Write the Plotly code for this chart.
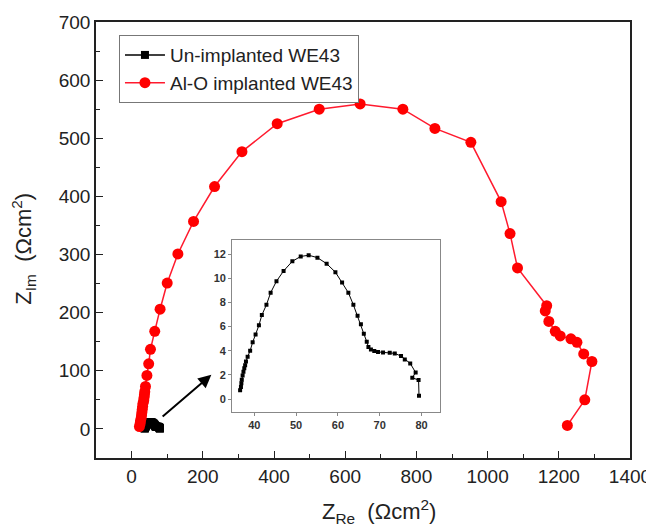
import plotly.graph_objects as go

# Un-implanted WE43 (also shown in inset)
un_x = [36.6, 36.8, 36.9, 37.0, 37.2, 37.4, 37.6, 37.8, 38.0, 38.4, 39.0, 39.6, 40.3, 41.1, 41.8,
        42.9, 43.9, 45.3, 47.0, 49.1, 51.1, 53.0, 55.1, 57.3, 59.4, 61.0, 62.5, 63.7, 64.7, 65.5,
        66.2, 66.9, 67.3, 67.9, 68.7, 69.6, 70.8, 72.4, 73.6, 75.1, 76.0, 77.3, 78.6, 77.8, 79.3, 79.4]
un_y = [0.74, 1.0, 1.3, 1.6, 1.95, 2.26, 2.55, 2.8, 3.1, 3.5, 4.0, 4.7, 5.35, 6.1, 6.95,
        7.8, 8.8, 9.75, 10.6, 11.4, 11.8, 11.9, 11.7, 11.2, 10.5, 9.65, 8.8, 7.8, 6.9, 6.2,
        5.4, 4.75, 4.3, 4.1, 3.97, 3.9, 3.86, 3.83, 3.78, 3.56, 3.28, 2.95, 2.2, 1.77, 1.57, 0.28]

# Al-O implanted WE43
al_x = [22, 24, 25, 27, 28, 29, 30, 31, 32, 34, 35, 36, 37, 39, 43, 48, 53, 65, 80, 100, 130, 174,
        233, 310, 409, 527, 642, 762, 852, 953, 1038, 1063, 1084, 1166, 1162, 1172, 1190, 1204,
        1234, 1251, 1270, 1293, 1273, 1224]
al_y = [4, 9, 14, 19, 24, 29, 34, 39, 44, 49, 54, 59, 64, 73, 92, 112, 137, 168, 206, 251, 301, 357,
        417, 477, 525, 550, 559, 550, 517, 493, 391, 336, 277, 212, 203, 185, 168, 160,
        155, 149, 129, 116, 50, 6]

x_ticks = [0, 200, 400, 600, 800, 1000, 1200, 1400]
y_ticks = [0, 100, 200, 300, 400, 500, 600, 700]
inset_x_ticks = [40, 50, 60, 70, 80]
inset_y_ticks = [0, 2, 4, 6, 8, 10, 12]

x_title = "Z<sub>Re</sub>  (Ωcm<sup>2</sup>)"
y_title = "Z<sub>Im</sub>  (Ωcm<sup>2</sup>)"

FONT = "Liberation Sans, Arial, sans-serif"

fig = go.Figure()
fig.add_trace(go.Scatter(x=un_x, y=un_y, mode="lines+markers", name="Un-implanted WE43",
                         line=dict(color="black", width=1.5),
                         marker=dict(symbol="square", size=8, color="black")))
fig.add_trace(go.Scatter(x=al_x, y=al_y, mode="lines+markers", name="Al-O implanted WE43",
                         line=dict(color="#ff1a2e", width=1.5),
                         marker=dict(symbol="circle", size=11, color="#ff0000")))
# inset
fig.add_trace(go.Scatter(x=un_x, y=un_y, mode="lines+markers", showlegend=False,
                         xaxis="x2", yaxis="y2",
                         line=dict(color="black", width=1),
                         marker=dict(symbol="square", size=4, color="black")))

fig.add_annotation(x=224, y=93, ax=83, ay=19, xref="x", yref="y", axref="x", ayref="y",
                   showarrow=True, arrowhead=2, arrowsize=1.3, arrowwidth=2, arrowcolor="black", text="")

# axis titles
fig.add_annotation(text=x_title, xref="paper", yref="paper", x=0.53, y=-0.122,
                   xanchor="center", yanchor="middle", showarrow=False,
                   font=dict(size=22, family=FONT, color="#222"))
fig.add_annotation(text=y_title, xref="paper", yref="paper", x=-0.135, y=0.48,
                   xanchor="center", yanchor="middle", showarrow=False, textangle=-90,
                   font=dict(size=22, family=FONT, color="#222"))

fig.update_layout(
    width=654, height=528,
    margin=dict(l=88, r=32, t=14, b=78, autoexpand=False),
    paper_bgcolor="white", plot_bgcolor="white",
    font=dict(family=FONT, size=19, color="#222"),
    showlegend=True,
    legend=dict(x=0.043, y=0.97, xanchor="left", yanchor="top",
                bgcolor="white", bordercolor="#777", borderwidth=1,
                font=dict(size=19, family=FONT, color="#222"),
                tracegroupgap=0, itemwidth=40),
    xaxis=dict(range=[-100, 1400], tickvals=x_ticks, showgrid=False, zeroline=False, automargin=False,
               ticks="inside", ticklen=7, tickwidth=1, tickcolor="#222",
               minor=dict(dtick=100, tick0=0, ticks="inside", ticklen=4, tickcolor="#222"),
               showline=True, linecolor="#222", linewidth=1.5, mirror=True,
               tickfont=dict(size=19)),
    yaxis=dict(range=[-50, 700], tickvals=y_ticks, showgrid=False, zeroline=False, automargin=False,
               ticks="inside", ticklen=7, tickwidth=1, tickcolor="#222",
               minor=dict(dtick=50, tick0=0, ticks="inside", ticklen=4, tickcolor="#222"),
               showline=True, linecolor="#222", linewidth=1.5, mirror=True,
               tickfont=dict(size=19)),
    xaxis2=dict(domain=[0.255, 0.644], anchor="y2", range=[34.7, 84.4], tickvals=inset_x_ticks,
                showgrid=False, zeroline=False, showline=True, linecolor="#888", linewidth=1, mirror=True,
                ticks="outside", ticklen=3, tickcolor="#888", automargin=False,
                tickfont=dict(size=11, color="#333", family="Liberation Sans, Arial", weight="bold")),
    yaxis2=dict(domain=[0.106, 0.5], anchor="x2", range=[-1.05, 13.16], tickvals=inset_y_ticks,
                showgrid=False, zeroline=False, showline=True, linecolor="#888", linewidth=1, mirror=True,
                ticks="outside", ticklen=3, tickcolor="#888", automargin=False,
                tickfont=dict(size=11, color="#333", family="Liberation Sans, Arial", weight="bold")),
)

fig.write_html("out.html")
